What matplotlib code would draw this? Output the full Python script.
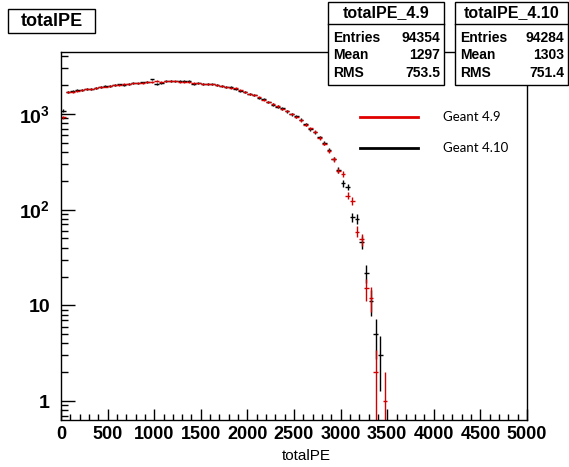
#!/usr/bin/env python3
import numpy as np
import matplotlib
matplotlib.use('Agg')
import matplotlib.pyplot as plt
from matplotlib.patches import Rectangle
from matplotlib.lines import Line2D

plt.rcParams['font.family'] = ['Liberation Sans', 'DejaVu Sans']
plt.rcParams['mathtext.fontset'] = 'custom'
plt.rcParams['mathtext.rm'] = 'Liberation Sans'
plt.rcParams['mathtext.bf'] = 'Liberation Sans:bold'

# histogram data, 50 wide bins starting at 0
bin_width = 50
counts_49 = [920, 1690, 1710, 1740, 1770, 1800, 1840, 1870, 1900, 1930,
             1960, 1990, 2010, 2040, 2060, 2080, 2100, 2120, 2140, 2170,
             2200, 2150, 2180, 2200, 2190, 2170, 2150, 2140, 2100, 2080,
             2060, 2050, 2030, 2000, 1960, 1920, 1880, 1850, 1760, 1690,
             1620, 1560, 1490, 1400, 1320, 1260, 1200, 1130, 1070, 1000,
             930, 860, 770, 710, 650, 560, 490, 410, 335, 255,
             235, 140, 124, 59, 49, 15, 12, 2, 0, 1]
counts_410 = [1080, 1680, 1720, 1760, 1760, 1820, 1830, 1880, 1890, 1950,
              1950, 2000, 2030, 2020, 2070, 2090, 2080, 2130, 2150, 2290,
              2070, 2120, 2190, 2210, 2180, 2200, 2230, 2210, 2070, 2090,
              2050, 2060, 2040, 1990, 1950, 1910, 1890, 1840, 1750, 1700,
              1600, 1570, 1480, 1420, 1330, 1250, 1190, 1140, 1060, 990,
              940, 870, 780, 690, 640, 570, 500, 420, 340, 260,
              188, 174, 83, 80, 46, 22, 11, 5, 3, 0]

stats_49 = [('Entries', '94354'), ('Mean', '1297'), ('RMS', '753.5')]
stats_410 = [('Entries', '94284'), ('Mean', '1303'), ('RMS', '751.4')]

W, H = 569, 467
YMIN, YMAX = 0.634, 4430


def fx(px):
    return px / W


def fy(py):
    return 1 - py / H


def draw_hist(ax, counts, color):
    counts = np.array(counts, dtype=float)
    centers = bin_width * (np.arange(len(counts)) + 0.5)
    keep = counts > 0
    c = counts[keep]
    err = np.sqrt(c)
    lo = np.minimum(err, c - 1e-3)
    ax.errorbar(centers[keep], c, xerr=bin_width / 2, yerr=[lo, err],
                fmt='none', ecolor=color, elinewidth=1, capsize=0)


fig = plt.figure(figsize=(W / 100, H / 100), dpi=100)
ax = fig.add_axes([fx(61), fy(420), fx(527) - fx(61), fy(52) - fy(420)])

draw_hist(ax, counts_410, 'black')
draw_hist(ax, counts_49, '#d00000')

ax.set_yscale('log')
ax.set_xlim(0, 5000)
ax.set_ylim(YMIN, YMAX)
ax.set_xticks(np.arange(0, 5001, 500))
ax.set_xticks(np.arange(0, 5001, 100), minor=True)
ax.set_xticklabels([str(v) for v in range(0, 5001, 500)])
ax.set_yticks([1, 10, 100, 1000])
ax.set_yticklabels(['1', '10', r'$\mathbf{10^{2}}$', r'$\mathbf{10^{3}}$'])
ax.yaxis.set_minor_formatter(matplotlib.ticker.NullFormatter())
ax.tick_params(which='both', direction='in', top=False, right=False,
               labelsize=13, width=1)
ax.tick_params(axis='y', labelsize=14)
for lab in ax.get_xticklabels() + ax.get_yticklabels():
    lab.set_fontweight('bold')
ax.tick_params(axis='x', which='major', length=8, pad=4)
ax.tick_params(axis='x', which='minor', length=4)
ax.tick_params(axis='y', which='major', length=10, pad=8)
ax.tick_params(axis='y', which='minor', length=5)
for s in ax.spines.values():
    s.set_linewidth(1)
fig.text(fx(306), fy(456), 'totalPE', fontsize=11, ha='center', va='center')

# title box
fig.add_artist(Rectangle((fx(8), fy(33)), fx(95) - fx(8), fy(9) - fy(33),
                         transform=fig.transFigure, fill=True, fc='white',
                         ec='black', lw=1))
fig.text(fx(51.5), fy(21), 'totalPE', fontsize=13, fontweight='bold',
         ha='center', va='center')


def stat_box(x0, x1, title, rows):
    y0, y1 = 2, 85
    fig.add_artist(Rectangle((fx(x0), fy(y1)), fx(x1) - fx(x0), fy(y0) - fy(y1),
                             transform=fig.transFigure, fc='white',
                             ec='black', lw=1, zorder=5))
    fig.add_artist(Line2D([fx(x0), fx(x1)], [fy(24), fy(24)],
                          transform=fig.transFigure, color='black', lw=1,
                          zorder=6))
    fig.text(fx((x0 + x1) / 2), fy(12.5), title, fontsize=11.5,
             fontweight='bold', ha='center', va='center', zorder=7)
    for (name, val), yy in zip(rows, [38, 55, 73]):
        fig.text(fx(x0 + 5), fy(yy), name, fontsize=10, fontweight='bold',
                 ha='left', va='center', zorder=7)
        fig.text(fx(x1 - 4), fy(yy), val, fontsize=10, fontweight='bold',
                 ha='right', va='center', zorder=7)


stat_box(328, 444, 'totalPE_4.9', stats_49)
stat_box(455, 568, 'totalPE_4.10', stats_410)

# legend
for yy, col, lab in [(117, '#e00000', 'Geant 4.9'), (148, 'black', 'Geant 4.10')]:
    fig.add_artist(Line2D([fx(360), fx(418)], [fy(yy), fy(yy)],
                          transform=fig.transFigure, color=col, lw=2))
    fig.text(fx(443), fy(yy), lab, fontsize=9.5, ha='left', va='center',
             family=['Lato', 'DejaVu Sans'])

fig.savefig('out.png', dpi=100)
